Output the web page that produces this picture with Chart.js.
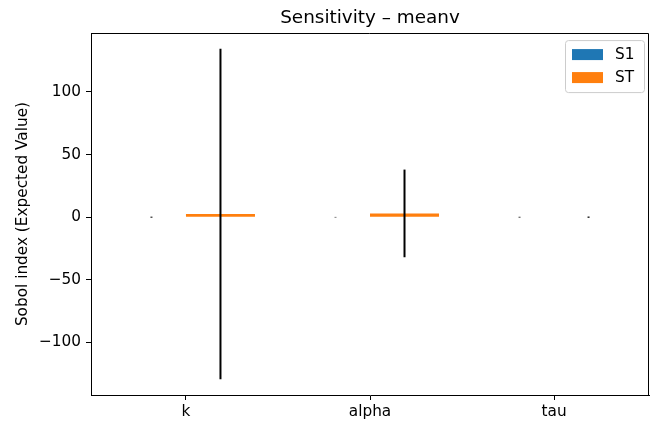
<!DOCTYPE html>
<html>
<head>
<meta charset="utf-8">
<script src="https://cdn.jsdelivr.net/npm/chart.js@4/dist/chart.umd.min.js"></script>
<style>
html,body{margin:0;padding:0;background:#fff;}
#wrap{width:650px;height:424px;}
</style>
</head>
<body>
<div id="wrap"><canvas id="c" width="650" height="424"></canvas></div>
<script>
const categories = ['k', 'alpha', 'tau'];
const s1Values = [0, 0, 0];
const s1Errors = [0.4, 0.2, 0.3];
const stValues = [2.5, 3.0, 0];
const stErrors = [132, 35, 0.5];
const yTicks = [-100, -50, 0, 50, 100];
const yMin = -142, yMax = 147;

const FONT = "'DejaVu Sans', sans-serif";
const FS = 15.3;

const toPoints = arr => arr.map((v, i) => ({ x: i, y: v }));

const errorBars = {
  id: 'errorBars',
  afterDatasetsDraw(chart) {
    const ctx = chart.ctx;
    const y = chart.scales.y;
    const errs = [s1Errors, stErrors];
    const vals = [s1Values, stValues];
    ctx.save();
    ctx.beginPath();
    ctx.rect(chart.chartArea.left, chart.chartArea.top, chart.chartArea.right - chart.chartArea.left, chart.chartArea.bottom - chart.chartArea.top);
    ctx.clip();
    ctx.strokeStyle = '#000';
    ctx.lineWidth = 2;
    chart.data.datasets.forEach((ds, i) => {
      const meta = chart.getDatasetMeta(i);
      meta.data.forEach((el, j) => {
        const v = vals[i][j], e = errs[i][j];
        ctx.beginPath();
        ctx.moveTo(el.x, y.getPixelForValue(v + e));
        ctx.lineTo(el.x, y.getPixelForValue(v - e));
        ctx.stroke();
      });
    });
    ctx.restore();
  }
};

const frameAndLegend = {
  id: 'frameAndLegend',
  afterDraw(chart) {
    const ctx = chart.ctx;
    const a = chart.chartArea;
    ctx.save();
    ctx.strokeStyle = '#000';
    ctx.lineWidth = 1;
    ctx.beginPath();
    ctx.moveTo(Math.round(a.left), Math.round(a.top) + 0.5);
    ctx.lineTo(Math.round(a.right) - 0.5, Math.round(a.top) + 0.5);
    ctx.lineTo(Math.round(a.right) - 0.5, Math.round(a.bottom));
    ctx.stroke();
    // legend
    const bx = a.right - 84, by = a.top + 7, bw = 79, bh = 52;
    ctx.beginPath();
    ctx.roundRect(bx + 0.5, by + 0.5, bw, bh, 3);
    ctx.fillStyle = 'rgba(255,255,255,0.8)';
    ctx.fill();
    ctx.strokeStyle = '#cccccc';
    ctx.stroke();
    ctx.font = FS + 'px ' + FONT;
    ctx.textBaseline = 'middle';
    ctx.textAlign = 'left';
    chart.data.datasets.forEach((ds, i) => {
      const ry = by + 9 + i * 23;
      ctx.fillStyle = ds.backgroundColor;
      ctx.fillRect(bx + 7, ry, 31, 11);
      ctx.fillStyle = '#000';
      ctx.fillText(ds.label, bx + 50, ry + 6);
    });
    ctx.restore();
  }
};

new Chart(document.getElementById('c'), {
  type: 'bar',
  data: {
    datasets: [
      { label: 'S1', data: toPoints(s1Values), backgroundColor: '#1f77b4', categoryPercentage: 0.75, barPercentage: 1.0 },
      { label: 'ST', data: toPoints(stValues), backgroundColor: '#ff7f0e', categoryPercentage: 0.75, barPercentage: 1.0 }
    ]
  },
  options: {
    responsive: false,
    animation: false,
    layout: { padding: { left: 0, right: 1, top: 0, bottom: 0 } },
    plugins: {
      legend: { display: false },
      tooltip: { enabled: false },
      title: {
        display: true,
        text: 'Sensitivity – meanv',
        fullSize: false,
        color: '#000',
        font: { family: FONT, size: 18.4, weight: 'normal' },
        padding: { top: 7, bottom: 4 }
      }
    },
    scales: {
      x: {
        type: 'linear',
        offset: false,
        min: -0.516,
        max: 2.516,
        grid: { offset: false, drawOnChartArea: false, drawTicks: true, tickLength: 5, color: '#000' },
        border: { display: true, color: '#000' },
        afterBuildTicks(s) { s.ticks = categories.map((c, i) => ({ value: i })); },
        ticks: {
          color: '#000',
          font: { family: FONT, size: FS },
          padding: 3,
          maxRotation: 0,
          autoSkip: false,
          callback: v => categories[Math.round(v)]
        },
        afterFit(s) { s.height = 29; }
      },
      y: {
        min: yMin,
        max: yMax,
        grid: { drawOnChartArea: false, drawTicks: true, tickLength: 5, color: '#000' },
        border: { display: true, color: '#000' },
        afterBuildTicks(s) { s.ticks = yTicks.map(v => ({ value: v })); },
        ticks: {
          color: '#000',
          font: { family: FONT, size: FS },
          padding: 5,
          callback: v => (v < 0 ? '\u2212' + Math.abs(v) : String(v))
        },
        title: {
          display: true,
          text: 'Sobol index (Expected Value)',
          color: '#000',
          font: { family: FONT, size: FS },
          padding: { top: 14, bottom: 0 }
        },
        afterFit(s) { s.width = 91; }
      }
    }
  },
  plugins: [errorBars, frameAndLegend]
});
</script>
</body>
</html>
